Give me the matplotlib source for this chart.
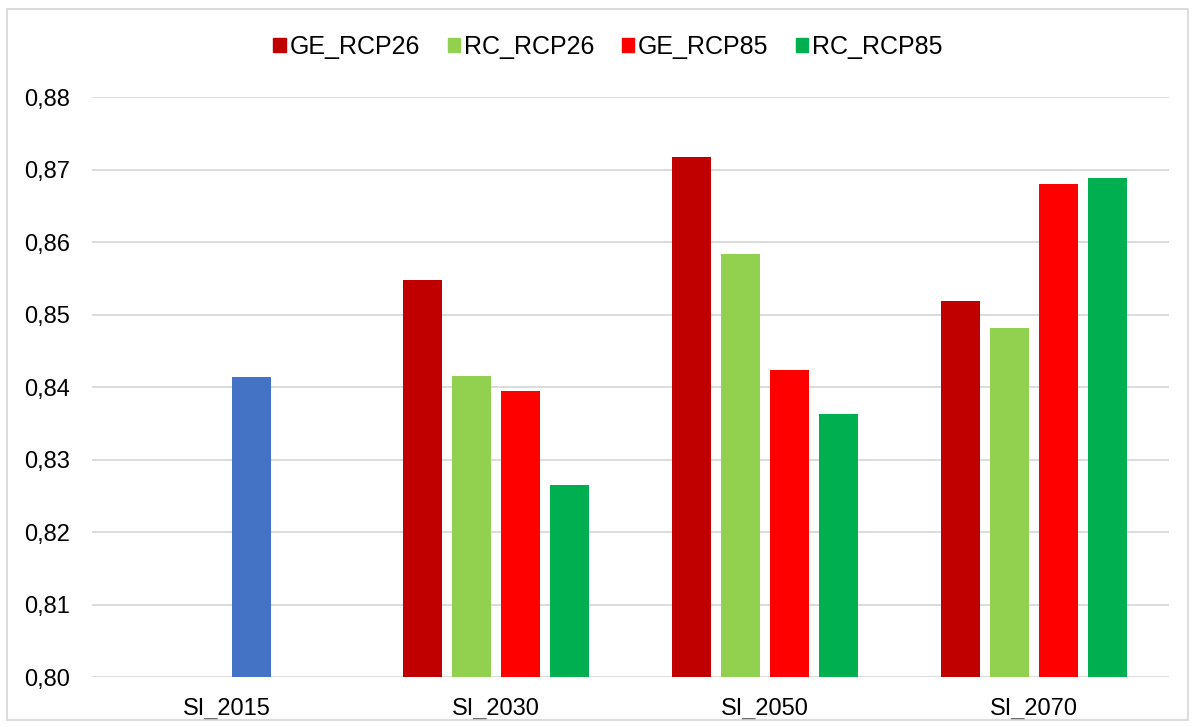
import matplotlib
matplotlib.use("Agg")
import matplotlib.pyplot as plt
import numpy as np
from matplotlib.patches import Rectangle

plt.rcParams['font.family'] = ['Liberation Sans', 'DejaVu Sans']

categories = ["SI_2015", "SI_2030", "SI_2050", "SI_2070"]
series_names = ["GE_RCP26", "RC_RCP26", "GE_RCP85", "RC_RCP85"]
ge_rcp26 = [np.nan, 0.8548, 0.8717, 0.8519]
rc_rcp26 = [np.nan, 0.8415, 0.8583, 0.8481]
ge_rcp85 = [0.8414, 0.8394, 0.8423, 0.8680]
rc_rcp85 = [np.nan, 0.8265, 0.8363, 0.8688]
series_values = [ge_rcp26, rc_rcp26, ge_rcp85, rc_rcp85]
series_colors = ["#C00000", "#92D050", "#FF0000", "#00B050"]
baseline_color = "#4472C4"
yticks = [0.80, 0.81, 0.82, 0.83, 0.84, 0.85, 0.86, 0.87, 0.88]

fig = plt.figure(figsize=(11.95, 7.27), dpi=100)
ax = fig.add_axes([92/1195, 50/727, (1169-92)/1195, (677-97)/727])

x = np.arange(len(categories))
bw = 0.145
step = 0.182
offsets = (np.arange(4) - 1.5) * step
for i, (name, vals, col) in enumerate(zip(series_names, series_values, series_colors)):
    cols = [col] * len(categories)
    if i == 2:
        cols[0] = baseline_color
    ax.bar(x + offsets[i], vals, width=bw, color=cols, label=name, zorder=3)

ax.set_xlim(-0.5, len(categories) - 0.5)
ax.set_ylim(0.80, 0.88)
ax.set_yticks(yticks)
ax.set_yticklabels([f"{v:.2f}".replace(".", ",") for v in yticks], fontsize=17)
ax.set_xticks(x)
ax.set_xticklabels(categories, fontsize=17)
ax.tick_params(axis='both', length=0, colors='#000000')
ax.tick_params(axis='y', pad=16)
ax.tick_params(axis='x', pad=15)
ax.grid(axis='y', color='#D9D9D9', linewidth=1.3, zorder=0)
for s in ax.spines.values():
    s.set_visible(False)

handles = [Rectangle((0, 0), 1, 1, color=c) for c in series_colors]
fig.legend(handles, series_names, loc='center', bbox_to_anchor=(608/1195, 1 - 47/727),
           ncol=4, frameon=False, fontsize=18, handlelength=0.5, handleheight=0.5,
           handletextpad=0.15, columnspacing=1.1)

fig.patches.append(Rectangle((7/1195, 1 - 720/727), 1181/1195, 711/727, transform=fig.transFigure,
                             fill=False, edgecolor='#D9D9D9', linewidth=1.3))

fig.savefig("out.png", dpi=100)
